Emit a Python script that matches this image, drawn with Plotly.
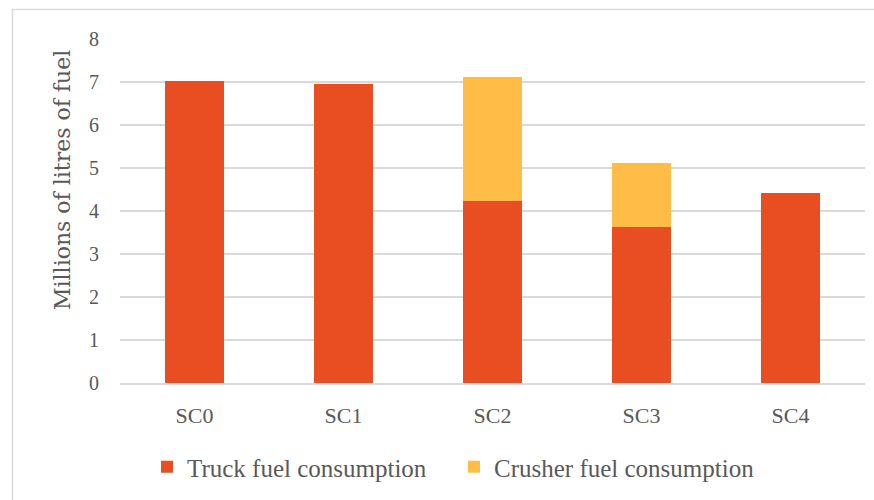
import plotly.graph_objects as go

categories = ["SC0", "SC1", "SC2", "SC3", "SC4"]
truck_fuel = [7.02, 6.95, 4.23, 3.63, 4.43]
crusher_fuel = [0, 0, 2.88, 1.48, 0]
y_ticks = [0, 1, 2, 3, 4, 5, 6, 7, 8]
y_title = "Millions of litres of fuel"

TRUCK_COLOR = "#E84E22"
CRUSHER_COLOR = "#FFBC47"
TEXT_COLOR = "#595959"
FONT = "Liberation Serif"

W, H = 874, 500
L, R, T, B = 120, 9, 39, 117
pw, ph = W - L - R, H - T - B


def px_to_paper_x(px):
    return (px - L) / pw


def px_to_paper_y(py):
    return (H - B - py) / ph


fig = go.Figure()
fig.add_trace(go.Bar(name="Truck fuel consumption", x=categories, y=truck_fuel,
                     marker=dict(color=TRUCK_COLOR, line=dict(width=0))))
fig.add_trace(go.Bar(name="Crusher fuel consumption", x=categories, y=crusher_fuel,
                     marker=dict(color=CRUSHER_COLOR, line=dict(width=0))))

fig.update_layout(
    barmode="stack",
    bargap=0.6,
    width=W, height=H,
    margin=dict(l=L, r=R, t=T, b=B, pad=0, autoexpand=False),
    paper_bgcolor="white", plot_bgcolor="white",
    font=dict(family=FONT, color=TEXT_COLOR, size=20),
    showlegend=True,
    hovermode=False,
    legend=dict(orientation="h", x=px_to_paper_x(147), xanchor="left",
                y=px_to_paper_y(467), yanchor="middle",
                font=dict(size=25, color=TEXT_COLOR, family=FONT), itemwidth=30,
                traceorder="normal", entrywidth=262, entrywidthmode="pixels"),
    yaxis=dict(range=[0, 8], tickvals=y_ticks, showgrid=True, gridcolor="#d9d9d9", gridwidth=1.3,
               zeroline=False, showline=False, ticks="", ticklabelstandoff=20,
               tickfont=dict(size=20, color=TEXT_COLOR)),
    xaxis=dict(showline=True, linecolor="#d9d9d9", linewidth=1.5, ticks="", ticklabelstandoff=12,
               tickfont=dict(size=22, color=TEXT_COLOR)),
    annotations=[dict(text=y_title, textangle=-90, xref="paper", yref="paper",
                      x=px_to_paper_x(63), y=px_to_paper_y(180), xanchor="center", yanchor="middle",
                      showarrow=False, font=dict(family="DejaVu Serif", size=22, color=TEXT_COLOR))],
    shapes=[dict(type="rect", xref="paper", yref="paper",
                 x0=px_to_paper_x(12.5), x1=px_to_paper_x(880),
                 y0=px_to_paper_y(510), y1=px_to_paper_y(9.5),
                 line=dict(color="#d9d9d9", width=1.5), fillcolor="rgba(0,0,0,0)", layer="below")],
)

fig.write_html("out.html",
               config={"displayModeBar": False, "staticPlot": True},
               post_script="document.body.style.margin='0';document.body.style.overflow='hidden';")
